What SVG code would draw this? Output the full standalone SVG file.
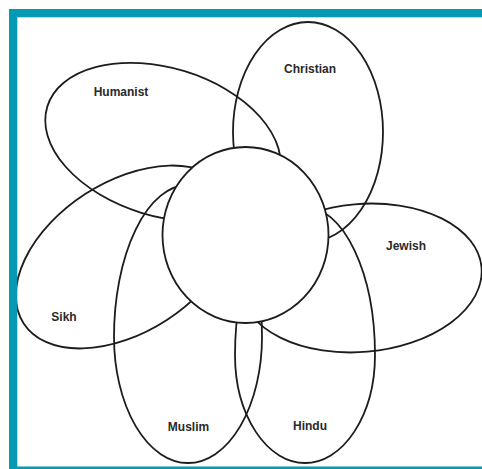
<svg xmlns="http://www.w3.org/2000/svg" width="482" height="469" viewBox="0 0 482 469">
<style>
.petal{fill:none;stroke:#1c1c1c;stroke-width:1.8}
.hub{fill:#ffffff;stroke:#1c1c1c;stroke-width:1.8}
.lbl{font-family:"Liberation Sans",Arial,sans-serif;font-size:12px;font-weight:bold;fill:#2a2a2a;text-anchor:middle}
.frame{fill:#0599b3}
</style>
<rect x="0" y="0" width="482" height="469" fill="#ffffff"/>
<g id="humanist">
<ellipse class="petal" cx="163" cy="142" rx="121" ry="74" transform="rotate(17 163 142)"/>
<text class="lbl" x="121" y="95.5">Humanist</text>
</g>
<g id="christian">
<ellipse class="petal" cx="308" cy="132" rx="75" ry="110"/>
<text class="lbl" x="310" y="73">Christian</text>
</g>
<g id="jewish">
<ellipse class="petal" cx="361" cy="278" rx="121" ry="74" transform="rotate(-5 361 278)"/>
<text class="lbl" x="406" y="250">Jewish</text>
</g>
<g id="sikh">
<ellipse class="petal" cx="126" cy="257" rx="122" ry="75" transform="rotate(-33 126 257)"/>
<text class="lbl" x="64" y="320.5">Sikh</text>
</g>
<g id="muslim">
<path class="petal" d="M114,337 A74,152 0 0 1 262,337 A74,126 0 0 1 114,337 Z"/>
<text class="lbl" x="188.5" y="430.5">Muslim</text>
</g>
<g id="hindu">
<path class="petal" d="M235,355 A70,148 0 0 1 375,355 A70,108 0 0 1 235,355 Z"/>
<text class="lbl" x="310" y="429.5">Hindu</text>
</g>
<g id="connectors"/>
<g id="centre">
<ellipse class="hub" cx="245.5" cy="235" rx="83" ry="88"/>
</g>
<g id="frame">
<rect class="frame" x="9" y="9" width="473" height="8.3"/>
<rect class="frame" x="9" y="9" width="8.3" height="460"/>
<rect class="frame" x="9" y="466.5" width="473" height="2.5"/>
</g>
</svg>
